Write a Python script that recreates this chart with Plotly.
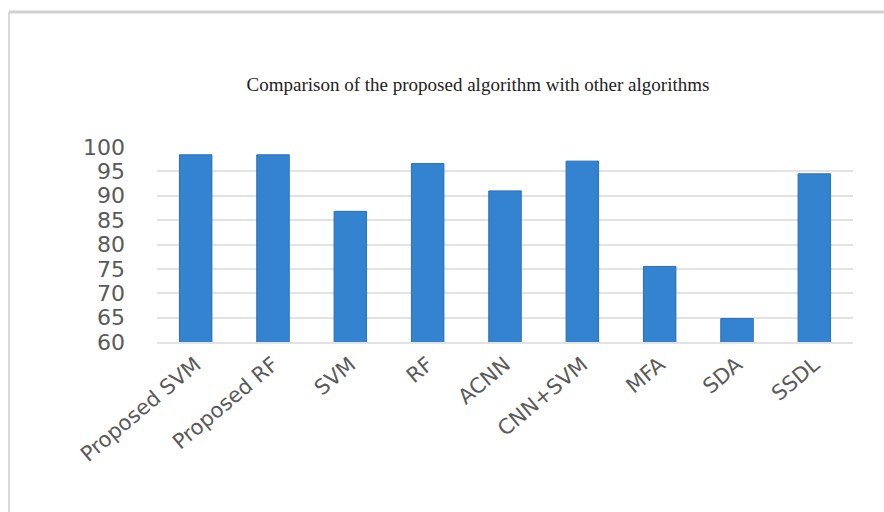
import plotly.graph_objects as go

categories = ["Proposed SVM", "Proposed RF", "SVM", "RF", "ACNN", "CNN+SVM", "MFA", "SDA", "SSDL"]
accuracy = [98.4, 98.4, 86.8, 96.6, 91.0, 97.1, 75.5, 64.8, 94.5]
y_ticks = [60, 65, 70, 75, 80, 85, 90, 95, 100]
title_text = "Comparison of the proposed algorithm with other algorithms"

W, H = 884, 512
fig = go.Figure()
fig.add_trace(go.Bar(
    x=categories, y=accuracy,
    marker=dict(color="#3383d0", line=dict(color="#2a6fb8", width=1)),
    width=0.42,
))

fig.update_layout(
    width=W, height=H,
    paper_bgcolor="white", plot_bgcolor="white",
    margin=dict(l=157, r=31, t=147, b=170),
    showlegend=False,
    title=dict(text=title_text, x=478 / W, xanchor="center", xref="container",
               y=1 - 84 / H, yanchor="middle", yref="container",
               font=dict(family="Liberation Serif", size=19, color="#222222")),
    bargap=0.58,
)
fig.update_yaxes(
    range=[60, 100], tickvals=y_ticks, showgrid=True, gridcolor="#e2e2e2", gridwidth=2,
    zeroline=False, showline=False,
    tickfont=dict(family="DejaVu Sans", size=22, color="#5a5a5a"),
    ticklabelstandoff=31,
)
fig.update_xaxes(
    tickangle=-40, showline=True, linecolor="#e2e2e2", linewidth=2,
    tickfont=dict(family="DejaVu Sans", size=21, color="#5a5a5a"),
)
# outer frame lines
fig.add_shape(type="line", xref="paper", yref="paper",
              x0=-148 / 696, x1=(884 - 157) / 696, y0=1 + (147 - 12) / 195, y1=1 + (147 - 12) / 195,
              line=dict(color="#d0d0d0", width=3))
fig.add_shape(type="line", xref="paper", yref="paper",
              x0=-148 / 696, x1=-148 / 696, y0=1 + (147 - 12) / 195, y1=-170 / 195,
              line=dict(color="#d8d8d8", width=2))

fig.write_html("out.html")
